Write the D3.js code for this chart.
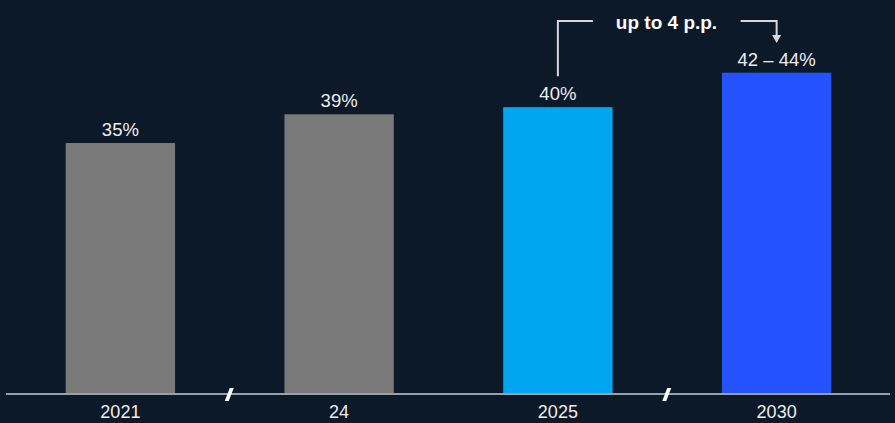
<!DOCTYPE html>
<html>
<head>
<style>
  body{ margin:0; background:#0b1929; }
  svg{ display:block; }
</style>
</head>
<body>
<svg id="chart"></svg>
<script src="https://cdn.jsdelivr.net/npm/d3@7/dist/d3.min.js"></script>
<script>

var categories = ["2021", "24", "2025", "2030"];
var values = [35, 39, 40, 44.8];
var valueLabels = ["35%", "39%", "40%", "42 – 44%"];
var barColors = ["#7a7a7a", "#7a7a7a", "#00a6f0", "#2352fe"];
var annotationText = "up to 4 p.p.";

var width = 895, height = 423;
var baseline = 394;
var fontFam = "'Liberation Sans', Arial, sans-serif";

var svg = d3.select("#chart")
    .attr("width", width)
    .attr("height", height);

svg.append("rect")
    .attr("width", width).attr("height", height)
    .attr("fill", "#0b1929");

var x = d3.scaleBand()
    .domain(categories)
    .range([11, 886])
    .paddingInner(0.5)
    .paddingOuter(0.25);

var y = d3.scaleLinear()
    .domain([0, 35])
    .range([baseline, 143]);

var data = categories.map(function(c, i) {
  return {cat: c, value: values[i], label: valueLabels[i], color: barColors[i]};
});

svg.selectAll(".bar")
    .data(data)
  .enter().append("rect")
    .attr("class", "bar")
    .attr("x", function(d) { return x(d.cat); })
    .attr("y", function(d) { return y(d.value); })
    .attr("width", x.bandwidth())
    .attr("height", function(d) { return baseline - y(d.value); })
    .attr("fill", function(d) { return d.color; });

// value labels
svg.selectAll(".vlabel")
    .data(data)
  .enter().append("text")
    .attr("x", function(d) { return x(d.cat) + x.bandwidth() / 2; })
    .attr("y", function(d) { return y(d.value) - 7; })
    .attr("text-anchor", "middle")
    .attr("fill", "#eeeeee")
    .style("font-family", fontFam)
    .style("font-size", "18.5px")
    .text(function(d) { return d.label; });

// axis
var xAxis = d3.axisBottom(x).tickSize(0).tickPadding(0);
var axisG = svg.append("g")
    .attr("transform", "translate(0," + baseline + ")")
    .call(xAxis);
axisG.select(".domain").remove();
axisG.selectAll("text")
    .attr("dy", null)
    .attr("y", 24)
    .attr("fill", "#eeeeee")
    .style("font-family", fontFam)
    .style("font-size", "18px");

svg.append("line")
    .attr("x1", 6).attr("x2", 890)
    .attr("y1", baseline).attr("y2", baseline)
    .attr("stroke", "#9aa0a8")
    .attr("stroke-width", 2);

// axis break marks between 2021/24 and 2025/2030
[[0, 1], [2, 3]].forEach(function(p) {
  var cx = (x(categories[p[0]]) + x.bandwidth() + x(categories[p[1]])) / 2;
  svg.append("path")
      .attr("d", "M" + (cx - 5) + "," + (baseline + 7) +
                 " L" + (cx - 1) + "," + (baseline + 7) +
                 " L" + (cx + 4) + "," + (baseline - 6) +
                 " L" + (cx) + "," + (baseline - 6) + " Z")
      .attr("fill", "#ffffff");
});

// annotation bracket
var c3 = x("2025") + x.bandwidth() / 2;
var c4 = x("2030") + x.bandwidth() / 2;
var topY = 21;
var lineColor = "#d8d8d8";

svg.append("path")
    .attr("d", "M" + c3 + "," + (y(values[2]) - 31) + " V" + topY + " H" + (c3 + 35))
    .attr("fill", "none")
    .attr("stroke", lineColor)
    .attr("stroke-width", 2);

svg.append("path")
    .attr("d", "M" + (c4 - 36) + "," + topY + " H" + c4 + " V" + 36)
    .attr("fill", "none")
    .attr("stroke", lineColor)
    .attr("stroke-width", 2);

svg.append("path")
    .attr("d", "M" + (c4 - 4.5) + ",35 L" + (c4 + 4.5) + ",35 L" + c4 + ",43 Z")
    .attr("fill", lineColor);

svg.append("text")
    .attr("x", 666.5)
    .attr("y", 29)
    .attr("text-anchor", "middle")
    .attr("fill", "#ffffff")
    .style("font-family", fontFam)
    .style("font-weight", "bold")
    .style("font-size", "19px")
    .text(annotationText);

</script>
</body>
</html>
